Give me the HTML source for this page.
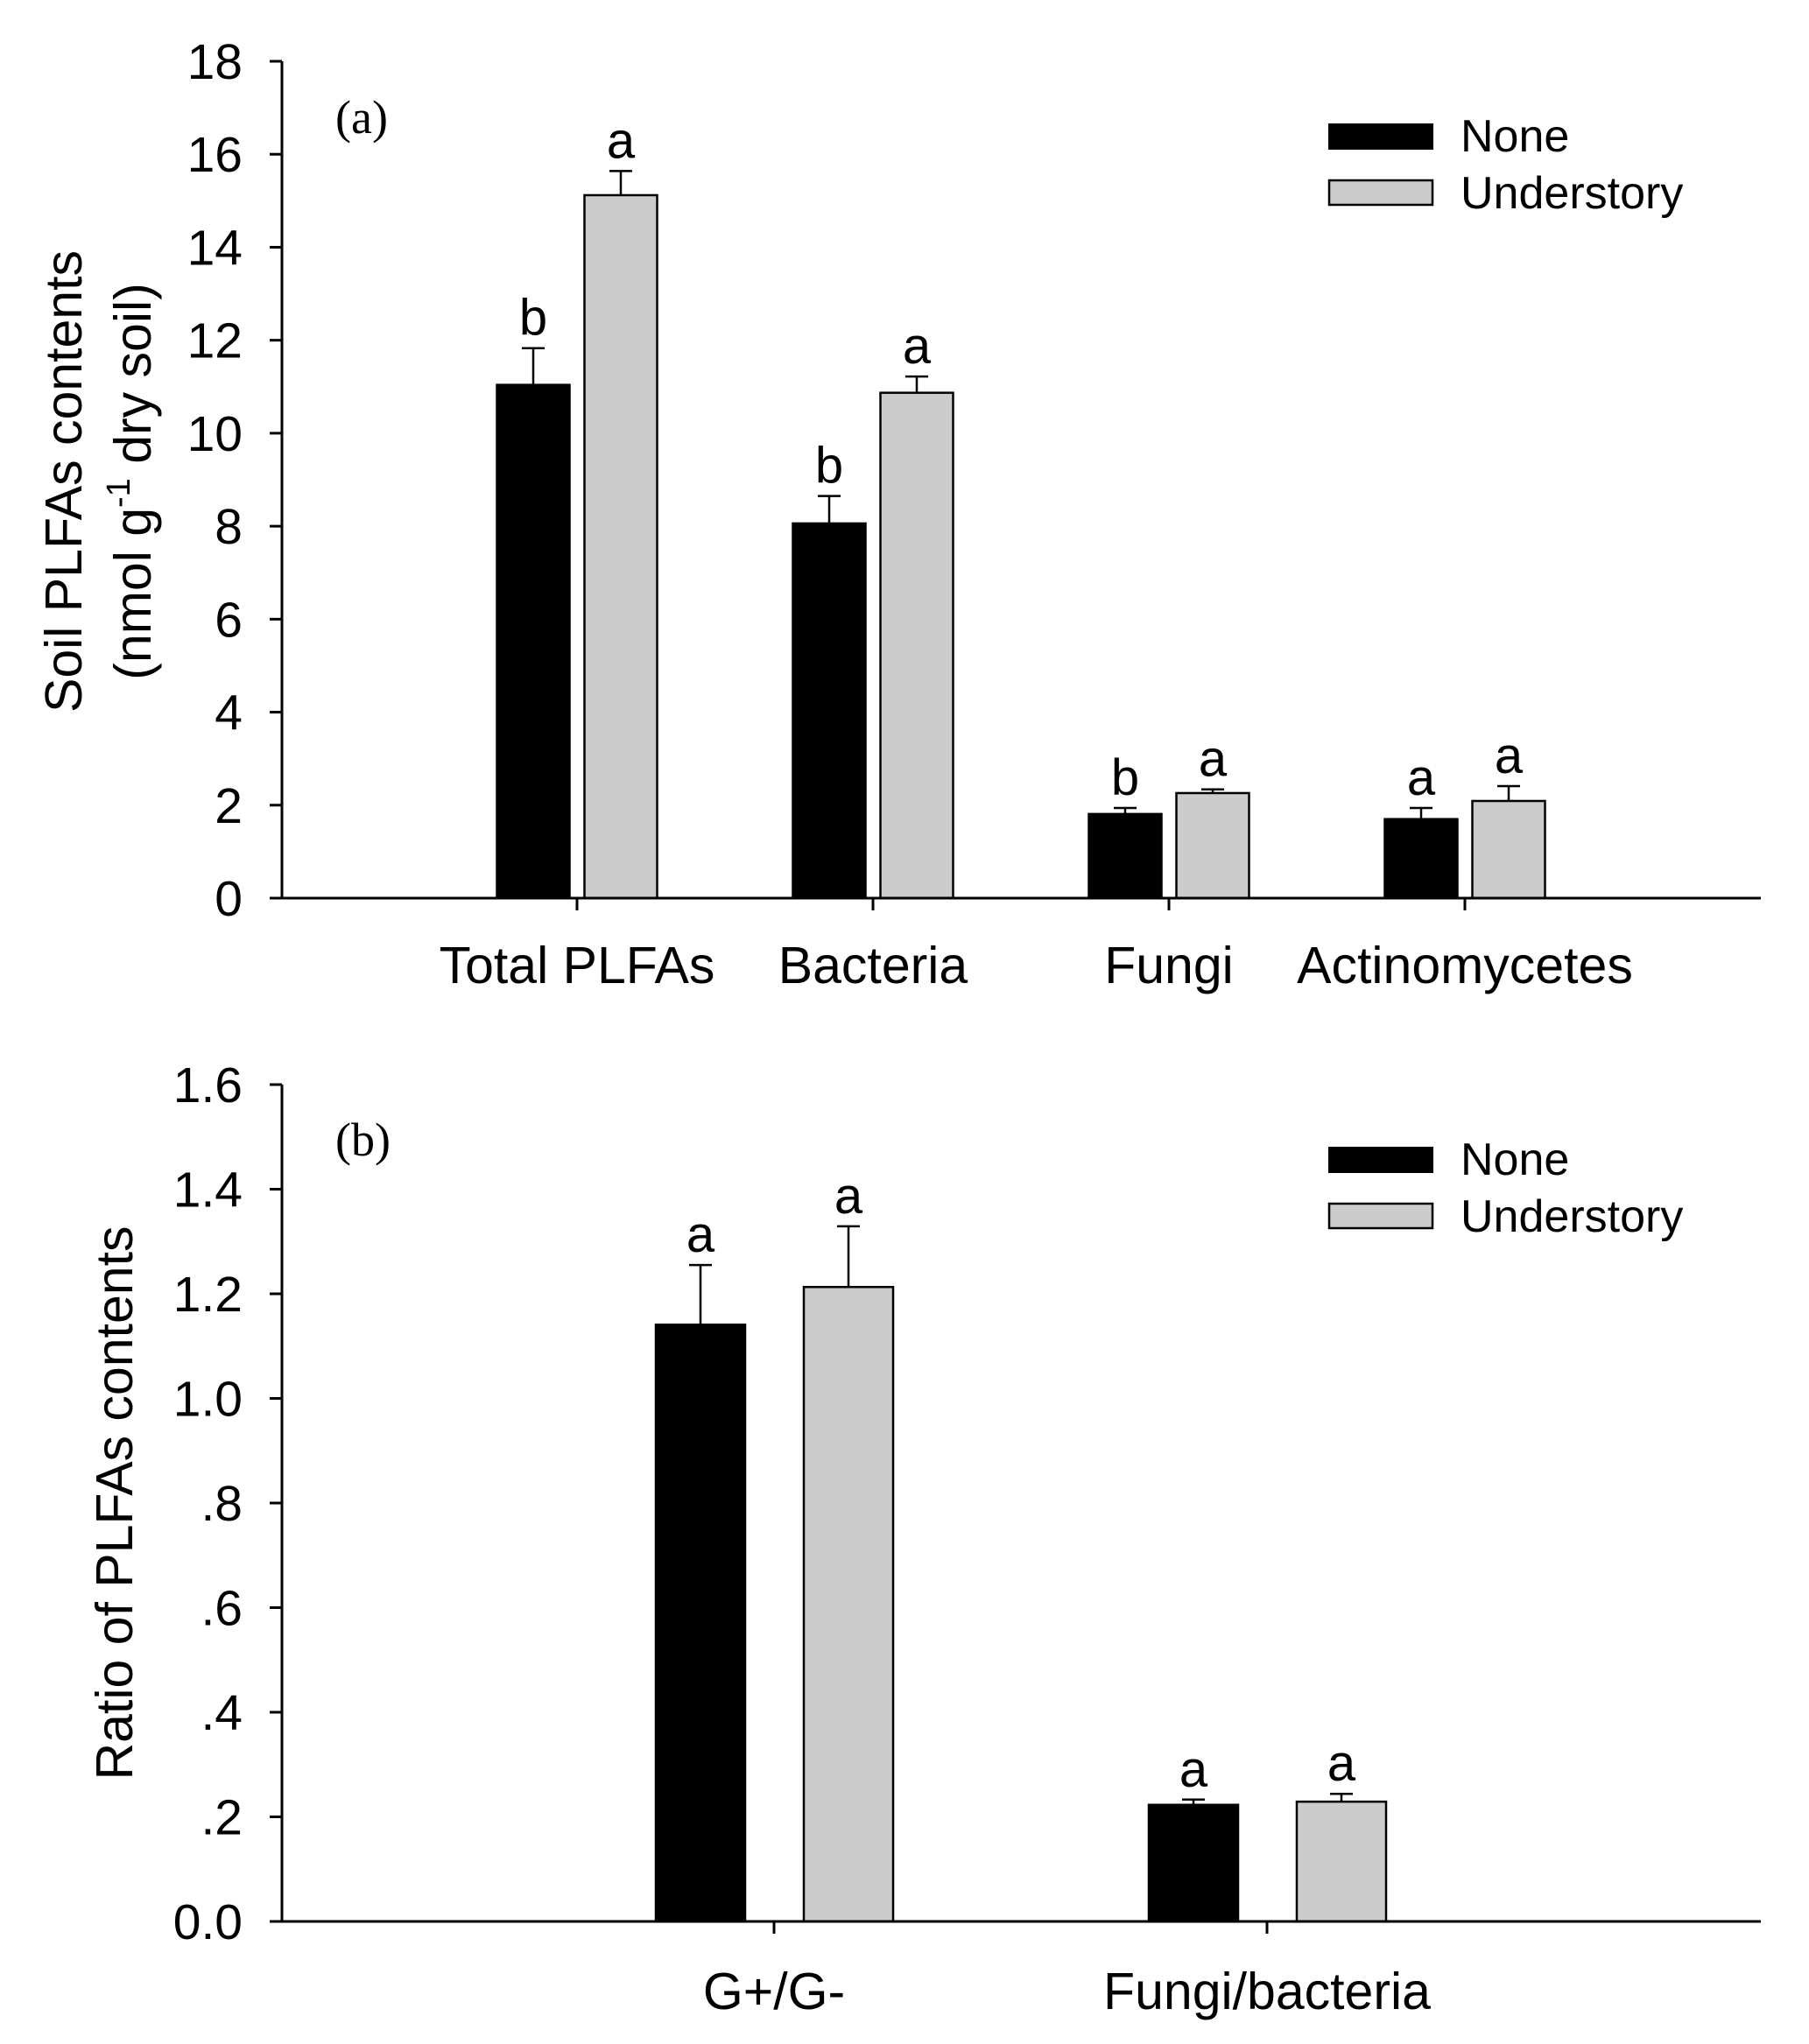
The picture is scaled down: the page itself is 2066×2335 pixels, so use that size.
<!DOCTYPE html>
<html><head><meta charset="utf-8"><style>
html,body{margin:0;padding:0;background:#fff;}
svg{display:block;font-family:"Liberation Sans",Arial,sans-serif;}
</style></head><body>
<svg id="chart" width="2066" height="2335" viewBox="0 0 2066 2335"></svg>
<script>
// Panel (a) data
const catsA = ["Total PLFAs","Bacteria","Fungi","Actinomycetes"];
const noneA = [11.04, 8.06, 1.81, 1.70];
const noneErrA = [0.79, 0.59, 0.13, 0.24];
const undA = [15.12, 10.87, 2.26, 2.09];
const undErrA = [0.52, 0.35, 0.08, 0.32];
const lettersNoneA = ["b","b","b","a"];
const lettersUndA = ["a","a","a","a"];
const ticksA = [0,2,4,6,8,10,12,14,16,18];
const tickLabelsA = ["0","2","4","6","8","10","12","14","16","18"];
// Panel (b) data
const catsB = ["G+/G-","Fungi/bacteria"];
const noneB = [1.141, 0.223];
const noneErrB = [0.114, 0.010];
const undB = [1.213, 0.229];
const undErrB = [0.116, 0.015];
const lettersNoneB = ["a","a"];
const lettersUndB = ["a","a"];
const ticksB = [0,0.2,0.4,0.6,0.8,1.0,1.2,1.4,1.6];
const tickLabelsB = ["0.0",".2",".4",".6",".8","1.0","1.2","1.4","1.6"];

const NS="http://www.w3.org/2000/svg";
const svg=document.getElementById('chart');
function mk(tag,attrs,parent){const e=document.createElementNS(NS,tag);for(const k in attrs)e.setAttribute(k,attrs[k]);(parent||svg).appendChild(e);return e;}

function panel(cfg){
  const g=mk('g',{});
  
  
  const y=v=>cfg.y0-(v-cfg.vmin)/(cfg.vmax-cfg.vmin)*(cfg.y0-cfg.y1);
  const x=i=>cfg.firstTick+i*cfg.spacing;
  // y ticks
  cfg.ticks.forEach((t,i)=>{
    const tk=mk('line',{x1:308,x2:cfg.ax,y1:y(t),y2:y(t),stroke:'#000','stroke-width':3},g);
    
    
    const tl=mk('text',{x:277,y:y(t)+20,'text-anchor':'end','font-size':57},g);
    tl.textContent=cfg.tickLabels[i];
    
    
  });
  // bars
  cfg.cats.forEach((c,i)=>{
    const cx=x(i);
    [[cfg.none,cfg.noneErr,cfg.lnone,'#000',cfg.offN,'none'],[cfg.und,cfg.undErr,cfg.lund,'#cccccc',cfg.offU,'understory']].forEach(s=>{
      const v=s[0][i],e=s[1][i],bx=cx+s[4]-cfg.bw/2;
      const r=mk('rect',{x:bx,y:y(v),width:cfg.bw,height:y(cfg.vmin)-y(v),fill:s[3],stroke:'#000','stroke-width':2.5},g);
      
      
      const bc=cx+s[4];
      const el=mk('line',{x1:bc,x2:bc,y1:y(v),y2:y(v+e),stroke:'#000','stroke-width':2.5},g);
      
      
      const ec=mk('line',{x1:bc-13,x2:bc+13,y1:y(v+e),y2:y(v+e),stroke:'#000','stroke-width':2.5},g);
      
      
      const lt=mk('text',{x:bc,y:y(v+e)-15,'text-anchor':'middle','font-size':58},g);
      lt.textContent=s[2][i];
      
      
    });
    const xt=mk('line',{x1:cx,x2:cx,y1:cfg.y0,y2:cfg.y0+14,stroke:'#000','stroke-width':3},g);
    
    
    const xl=mk('text',{x:cx,y:cfg.xlabY,'text-anchor':'middle','font-size':59},g);
    xl.textContent=c;
    
    
  });
  // axes
  const ya=mk('line',{x1:cfg.ax,x2:cfg.ax,y1:cfg.y1,y2:cfg.y0+1.5,stroke:'#000','stroke-width':3},g);
  
  
  const xa=mk('line',{x1:cfg.ax,x2:2011,y1:cfg.y0,y2:cfg.y0,stroke:'#000','stroke-width':3},g);
  
  
  // panel label
  const pl=mk('text',{x:383,y:cfg.labY,'font-size':54,'font-family':'Liberation Serif, serif'},g);
  pl.textContent=cfg.label;
  
  
  // legend
  const lr1=mk('rect',{x:1518,y:cfg.legY,width:118,height:28,fill:'#000',stroke:'#000','stroke-width':2},g);
  
  
  const lt1=mk('text',{x:1668,y:cfg.legY+31,'font-size':52},g);
  lt1.textContent='None';
  
  
  const lr2=mk('rect',{x:1518,y:cfg.legY+64,width:118,height:28,fill:'#cccccc',stroke:'#000','stroke-width':2.5},g);
  
  
  const lt2=mk('text',{x:1668,y:cfg.legY+96,'font-size':52},g);
  lt2.textContent='Understory';
  
  
  return g;
}

panel({name:'panel-a',cats:catsA,none:noneA,noneErr:noneErrA,und:undA,undErr:undErrA,lnone:lettersNoneA,lund:lettersUndA,
  ticks:ticksA,tickLabels:tickLabelsA,vmin:0,vmax:18,y0:1026,y1:70,ax:322,firstTick:659,spacing:338,bw:83,offN:-50,offU:50,
  xlabY:1123,label:'(a)',labY:152,legY:142});
panel({name:'panel-b',cats:catsB,none:noneB,noneErr:noneErrB,und:undB,undErr:undErrB,lnone:lettersNoneB,lund:lettersUndB,
  ticks:ticksB,tickLabels:tickLabelsB,vmin:0,vmax:1.6,y0:2195,y1:1239,ax:322,firstTick:884,spacing:563,bw:102,offN:-84,offU:85,
  xlabY:2295,label:'(b)',labY:1320,legY:1311});

// y titles
const t1=mk('text',{x:0,y:0,'text-anchor':'middle','font-size':59,transform:'translate(93,550) rotate(-90)'});
t1.textContent='Soil PLFAs contents';


const t2=mk('text',{x:0,y:0,'text-anchor':'middle','font-size':59,transform:'translate(172,550) rotate(-90)'});


t2.innerHTML='(nmol g<tspan dy="-24" font-size="38">-1</tspan><tspan dy="24"> dry soil)</tspan>';
const t3=mk('text',{x:0,y:0,'text-anchor':'middle','font-size':59,transform:'translate(151,1717) rotate(-90)'});
t3.textContent='Ratio of PLFAs contents';


</script>
</body></html>
